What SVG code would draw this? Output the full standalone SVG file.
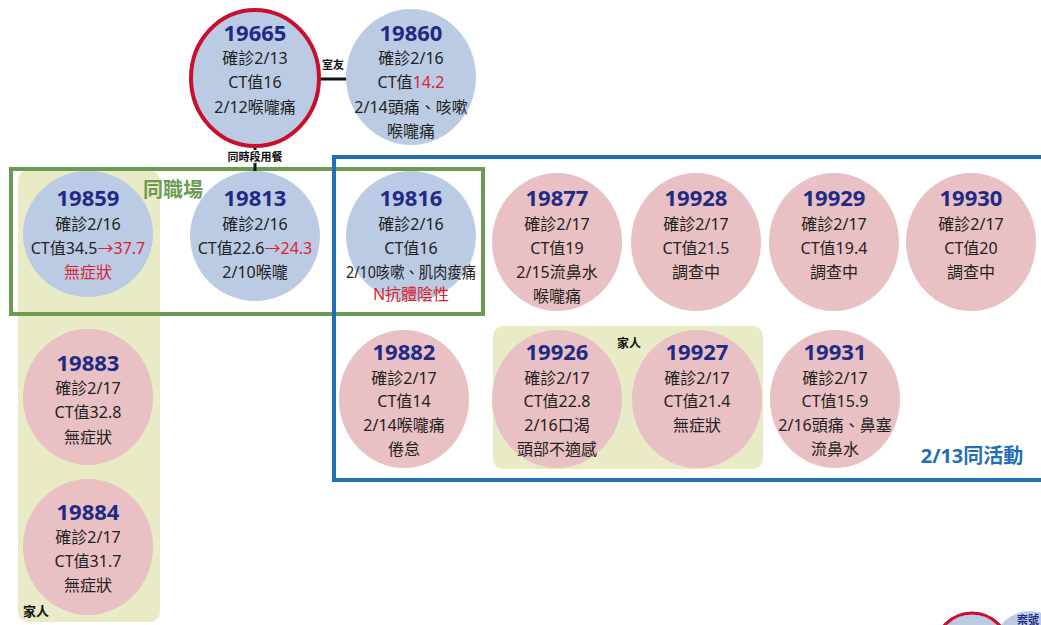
<svg xmlns="http://www.w3.org/2000/svg" width="1041" height="625" viewBox="0 0 1041 625">
<style>
text{font-family:"Noto Sans","Noto Sans CJK TC",sans-serif;text-anchor:middle}
.n{font-size:22px;font-weight:bold;fill:#1f2a85}
.t{font-size:16px;fill:#222}
.r{fill:#d9232f}
.blue{fill:#bccbe4}
.pink{fill:#e9c0c4}
.lbl{font-size:11px;font-weight:bold;fill:#111}
</style>
<rect width="1041" height="625" fill="#fff"/>
<!-- groups / backgrounds -->
<g id="family-left"><rect x="18" y="170" width="142" height="452" rx="10" fill="#e8ebc5"/><text class="lbl" x="36" y="616" style="font-size:13px">家人</text></g>
<g id="family-mid"><rect x="493" y="326" width="270" height="143" rx="10" fill="#e8ebc5"/></g>
<g id="same-work"><rect x="11" y="169" width="472" height="145" fill="none" stroke="#6b9a52" stroke-width="4"/><text x="173" y="197" style="font-size:20px;font-weight:bold;fill:#6b9a52">同職場</text></g>
<g id="same-activity"><path d="M1045,157 H334 V480 H1045" fill="none" stroke="#1f6fb8" stroke-width="4"/><text x="972" y="463" style="font-size:20px;font-weight:bold;fill:#1f6fb8">2/13同活動</text></g>
<!-- connectors -->
<g id="connectors">
<line x1="320" y1="79" x2="347" y2="79" stroke="#111" stroke-width="3"/>
<line x1="255" y1="147" x2="255" y2="172" stroke="#111" stroke-width="3"/>
<text class="lbl" x="333" y="69">室友</text>
<text class="lbl" x="255" y="161" stroke="#fff" stroke-width="2" paint-order="stroke">同時段用餐</text>
</g>
<!-- nodes -->
<g id="n19665"><ellipse cx="255" cy="78" rx="64" ry="68" class="blue" stroke="#c8102e" stroke-width="4"/>
<text class="n" x="255" y="41">19665</text><text class="t" x="255" y="64">確診2/13</text><text class="t" x="255" y="88">CT值16</text><text class="t" x="255" y="113">2/12喉嚨痛</text></g>
<g id="n19860"><ellipse cx="411" cy="77" rx="65" ry="68" class="blue"/>
<text class="n" x="411" y="41">19860</text><text class="t" x="411" y="64">確診2/16</text><text class="t" x="411" y="88">CT值<tspan class="r">14.2</tspan></text><text class="t" x="411" y="113">2/14頭痛、咳嗽</text><text class="t" x="411" y="137">喉嚨痛</text></g>
<g id="n19859"><ellipse cx="88" cy="234" rx="65" ry="63" class="blue"/>
<text class="n" x="88" y="206">19859</text><text class="t" x="88" y="230">確診2/16</text><text class="t" x="88" y="254">CT值34.5<tspan class="r">→37.7</tspan></text><text class="t r" x="88" y="278">無症狀</text></g>
<g id="n19813"><ellipse cx="255" cy="236" rx="65" ry="65" class="blue"/>
<text class="n" x="255" y="206">19813</text><text class="t" x="255" y="230">確診2/16</text><text class="t" x="255" y="254">CT值22.6<tspan class="r">→24.3</tspan></text><text class="t" x="255" y="278">2/10喉嚨</text></g>
<g id="n19816"><ellipse cx="411" cy="236" rx="65" ry="65" class="blue"/>
<text class="n" x="411" y="206">19816</text><text class="t" x="411" y="230">確診2/16</text><text class="t" x="411" y="254">CT值16</text><text class="t" x="411" y="278" textLength="130" lengthAdjust="spacingAndGlyphs">2/10咳嗽、肌肉痠痛</text><text class="t r" x="411" y="300">N抗體陰性</text></g>
<g id="n19877"><ellipse cx="557" cy="242" rx="65" ry="69" class="pink"/>
<text class="n" x="557" y="206">19877</text><text class="t" x="557" y="230">確診2/17</text><text class="t" x="557" y="254">CT值19</text><text class="t" x="557" y="278">2/15流鼻水</text><text class="t" x="557" y="302">喉嚨痛</text></g>
<g id="n19928"><ellipse cx="696" cy="242" rx="65" ry="69" class="pink"/>
<text class="n" x="696" y="206">19928</text><text class="t" x="696" y="230">確診2/17</text><text class="t" x="696" y="254">CT值21.5</text><text class="t" x="696" y="278">調查中</text></g>
<g id="n19929"><ellipse cx="834" cy="242" rx="65" ry="69" class="pink"/>
<text class="n" x="834" y="206">19929</text><text class="t" x="834" y="230">確診2/17</text><text class="t" x="834" y="254">CT值19.4</text><text class="t" x="834" y="278">調查中</text></g>
<g id="n19930"><ellipse cx="971" cy="242" rx="65" ry="69" class="pink"/>
<text class="n" x="971" y="206">19930</text><text class="t" x="971" y="230">確診2/17</text><text class="t" x="971" y="254">CT值20</text><text class="t" x="971" y="278">調查中</text></g>
<g id="n19883"><ellipse cx="88" cy="397" rx="65" ry="68" class="pink"/>
<text class="n" x="88" y="371">19883</text><text class="t" x="88" y="394">確診2/17</text><text class="t" x="88" y="418">CT值32.8</text><text class="t" x="88" y="443">無症狀</text></g>
<g id="n19884"><ellipse cx="88" cy="547" rx="65" ry="68" class="pink"/>
<text class="n" x="88" y="520">19884</text><text class="t" x="88" y="543">確診2/17</text><text class="t" x="88" y="567">CT值31.7</text><text class="t" x="88" y="591">無症狀</text></g>
<g id="n19882"><ellipse cx="404" cy="399" rx="65" ry="69" class="pink"/>
<text class="n" x="404" y="360">19882</text><text class="t" x="404" y="384">確診2/17</text><text class="t" x="404" y="407">CT值14</text><text class="t" x="404" y="431">2/14喉嚨痛</text><text class="t" x="404" y="455">倦怠</text></g>
<g id="n19926"><ellipse cx="557" cy="399" rx="65" ry="69" class="pink"/>
<text class="n" x="557" y="360">19926</text><text class="t" x="557" y="384">確診2/17</text><text class="t" x="557" y="407">CT值22.8</text><text class="t" x="557" y="431">2/16口渴</text><text class="t" x="557" y="455">頭部不適感</text></g>
<g id="n19927"><ellipse cx="697" cy="399" rx="65" ry="69" class="pink"/>
<text class="n" x="697" y="360">19927</text><text class="t" x="697" y="384">確診2/17</text><text class="t" x="697" y="407">CT值21.4</text><text class="t" x="697" y="431">無症狀</text></g>
<text class="lbl" x="629" y="348" style="font-size:12px">家人</text>
<g id="n19931"><ellipse cx="835" cy="399" rx="65" ry="69" class="pink"/>
<text class="n" x="835" y="360">19931</text><text class="t" x="835" y="384">確診2/17</text><text class="t" x="835" y="407">CT值15.9</text><text class="t" x="835" y="431">2/16頭痛、鼻塞</text><text class="t" x="835" y="455">流鼻水</text></g>
<!-- legend (cropped) -->
<g id="legend">
<circle cx="972" cy="650" r="37" class="blue" stroke="#c8102e" stroke-width="3"/>
<circle cx="1030" cy="648" r="37" class="blue"/>
<text x="1028" y="624" style="font-size:11px;font-weight:bold;fill:#1f2a85">案號</text>
</g>
</svg>
